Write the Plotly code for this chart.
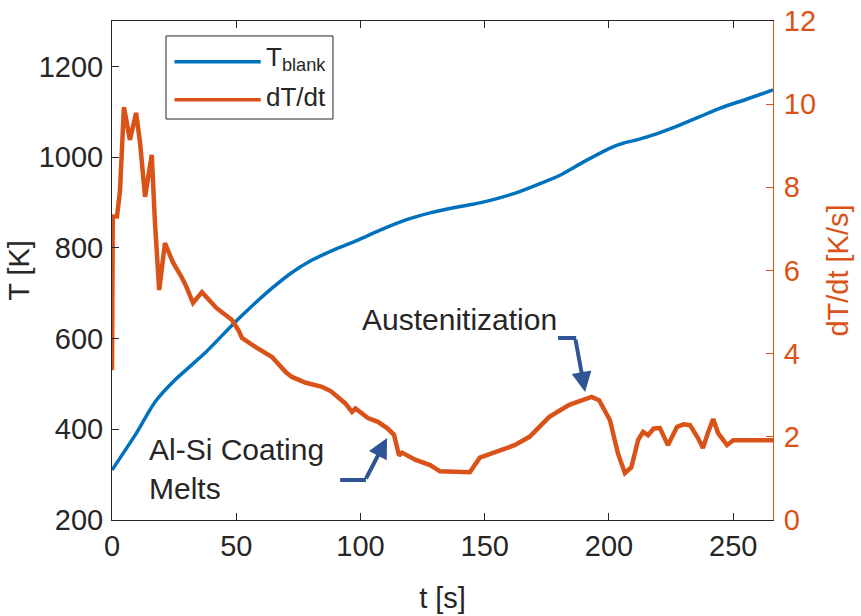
import plotly.graph_objects as go

# Blank temperature history
t_blank = [0, 9.3, 17.3, 25.4, 37.4, 49.5, 57, 64.4, 72, 80.5, 90, 99, 107.9, 118,
           128, 138, 148, 156, 164, 172, 180.3, 190, 201.8, 206, 211.2, 220, 228.7,
           244.8, 255, 266]
T_blank = [310, 387, 460, 509, 568, 636, 675, 711, 744, 773, 797, 817, 839, 861,
           877, 889, 899, 910, 924, 941, 960, 990, 1023, 1031, 1038, 1053, 1071,
           1108, 1127, 1148]

# Heating rate history
t_rate = [0, 0.3, 2, 3.2, 4.8, 7.2, 9.7, 11.3, 13.3, 16, 17.3, 19, 21.3, 24.5,
          28.2, 30, 32.6, 36.2, 42, 48.3, 51, 52.3, 58, 64.4, 70, 72.4, 78, 84.5,
          88, 93.8, 96.6, 98, 103, 107, 110.7, 113.5, 115.5, 116.7, 122, 128, 132,
          138, 144, 148, 155, 162, 168, 176, 184, 188, 193, 196, 200.4, 203.6,
          206.4, 209, 211.7, 213.7, 215.7, 218, 220.5, 223.7, 227.4, 230, 232.6,
          235.8, 237.8, 239.8, 241.9, 243.9, 247.5, 250, 258, 266]
dTdt = [3.6, 7.3, 7.3, 7.9, 9.93, 9.14, 9.79, 9.07, 7.77, 8.78, 7.14, 5.53, 6.66,
        6.2, 5.82, 5.6, 5.22, 5.48, 5.1, 4.81, 4.55, 4.38, 4.15, 3.92, 3.55, 3.44,
        3.3, 3.2, 3.1, 2.81, 2.6, 2.68, 2.45, 2.36, 2.21, 2.05, 1.55, 1.62, 1.45,
        1.32, 1.17, 1.15, 1.15, 1.5, 1.64, 1.8, 2.0, 2.48, 2.77, 2.85, 2.96, 2.88,
        2.4, 1.6, 1.13, 1.27, 1.92, 2.12, 2.04, 2.2, 2.21, 1.8, 2.24, 2.3, 2.28,
        1.97, 1.73, 2.09, 2.43, 2.09, 1.8, 1.92, 1.93, 1.92]

x_ticks = [0, 50, 100, 150, 200, 250]
T_ticks = [200, 400, 600, 800, 1000, 1200]
rate_ticks = [0, 2, 4, 6, 8, 10, 12]

series_names = ["T<sub>blank</sub>", "dT/dt"]

BLUE = "#0072BD"
ORANGE = "#D95319"
ARROW = "#2F5597"
INK = "#262626"
FONT = "Liberation Sans"

fig = go.Figure()
fig.add_trace(go.Scatter(x=t_blank, y=T_blank, mode="lines", name=series_names[0],
                         line=dict(color=BLUE, width=3.5, shape="spline", smoothing=0.6),
                         yaxis="y"))
fig.add_trace(go.Scatter(x=t_rate, y=dTdt, mode="lines", name=series_names[1],
                         line=dict(color=ORANGE, width=4.5), yaxis="y2"))

axis_common = dict(showgrid=False, zeroline=False, showline=True, linewidth=1,
                   ticks="inside", ticklen=7, tickwidth=1, automargin=False)

fig.update_layout(
    width=861, height=616,
    margin=dict(l=112, r=88, t=21, b=96),
    plot_bgcolor="white", paper_bgcolor="white",
    showlegend=False,
    font=dict(family=FONT, color=INK),
    xaxis=dict(range=[0, 266], tickvals=x_ticks, linecolor=INK, tickcolor=INK,
               mirror="ticks", tickfont=dict(size=29, color=INK),
               title=dict(text="t [s]", font=dict(size=29, color=INK), standoff=26),
               **axis_common),
    yaxis=dict(range=[200, 1300], tickvals=T_ticks, linecolor=INK, tickcolor=INK,
               tickfont=dict(size=29, color=INK), ticklabelstandoff=2,
               title=dict(text="T [K]", font=dict(size=29, color=INK), standoff=0),
               **axis_common),
    yaxis2=dict(range=[0, 12], tickvals=rate_ticks, overlaying="y", side="right",
                linecolor=ORANGE, tickcolor=ORANGE,
                tickfont=dict(size=29, color=ORANGE), ticklabelstandoff=4,
                title=dict(text="dT/dt [K/s]", font=dict(size=29, color=ORANGE), standoff=12),
                **axis_common),
)

# Legend box drawn with long line samples
fig.add_shape(type="rect", xref="paper", yref="paper", x0=0.0817, x1=0.3343,
              y0=0.8036, y1=0.970, line=dict(color=INK, width=1), fillcolor="white")
for yp, col, name in [(0.9185, BLUE, series_names[0]), (0.842, ORANGE, series_names[1])]:
    fig.add_shape(type="line", xref="paper", yref="paper", x0=0.0945, x1=0.2250,
                  y0=yp, y1=yp, line=dict(color=col, width=3.5))
    fig.add_annotation(xref="paper", yref="paper", x=0.2300, y=yp + 0.006,
                       text=name, showarrow=False, xanchor="left", yanchor="middle",
                       font=dict(size=26, color=INK))

# Annotations with elbow arrows
fig.add_annotation(x=14.1, y=313.5, xref="x", yref="y", text="Al-Si Coating<br>Melts",
                   showarrow=False, xanchor="left", yanchor="middle", align="left",
                   font=dict(size=30, color=INK))
fig.add_shape(type="line", xref="x", yref="y", x0=91.8, x1=102.2, y0=288.2, y1=288.2,
              line=dict(color=ARROW, width=4))
fig.add_annotation(x=110.7, y=380.8, ax=101.9, ay=288.2, xref="x", yref="y",
                   axref="x", ayref="y", text="", showarrow=True, arrowhead=2,
                   arrowsize=1.0, arrowwidth=4, arrowcolor=ARROW)

fig.add_annotation(x=99.8, y=641, xref="x", yref="y", text="Austenitization",
                   showarrow=False, xanchor="left", yanchor="middle",
                   font=dict(size=30, color=INK))
fig.add_shape(type="line", xref="x", yref="y", x0=179.5, x1=186.8, y0=601.2, y1=601.2,
              line=dict(color=ARROW, width=4))
fig.add_annotation(x=190.4, y=482.2, ax=186.4, ay=601.2, xref="x", yref="y",
                   axref="x", ayref="y", text="", showarrow=True, arrowhead=2,
                   arrowsize=1.0, arrowwidth=4, arrowcolor=ARROW)

fig.write_html("out.html")
